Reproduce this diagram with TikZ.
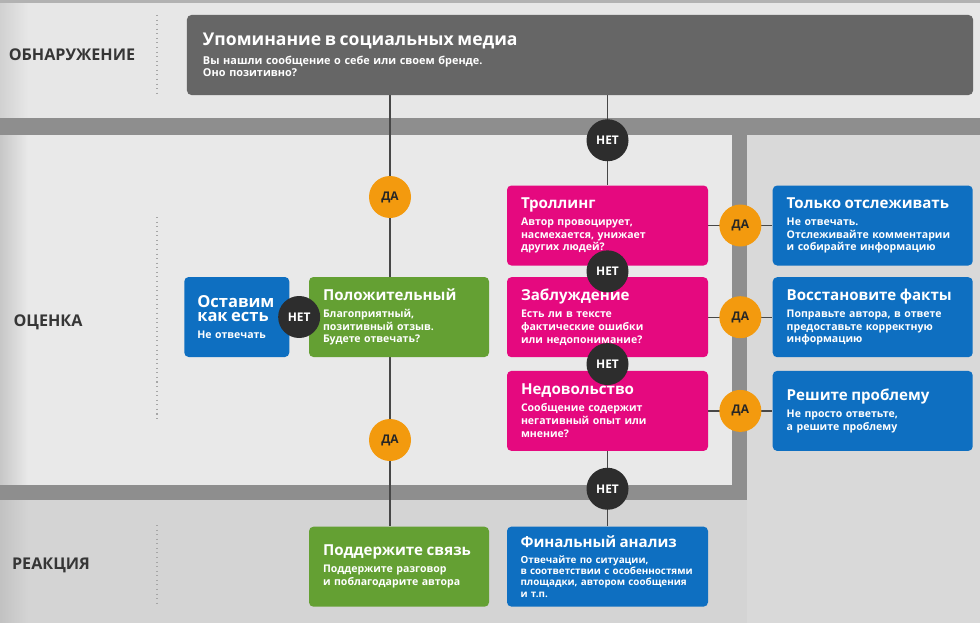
\documentclass[tikz,border=0pt]{standalone}
\usepackage{fontspec}
\setmainfont{Open Sans}
\usetikzlibrary{positioning,calc}

\definecolor{topbg}{HTML}{E7E7E7}
\definecolor{midbg}{HTML}{E9E9E9}
\definecolor{sidebg}{HTML}{D9D9D9}
\definecolor{lowbg}{HTML}{D4D4D4}
\definecolor{barcol}{HTML}{8E8E8E}
\definecolor{headcol}{HTML}{666666}
\definecolor{trollcol}{HTML}{E5097F}
\definecolor{actcol}{HTML}{0E6FC1}
\definecolor{goodcol}{HTML}{64A033}
\definecolor{yescol}{HTML}{F39A0E}
\definecolor{nocol}{HTML}{2D2D2D}
\definecolor{labelcol}{HTML}{363636}

\pgfdeclarelayer{back}
\pgfdeclarelayer{wires}
\pgfsetlayers{back,wires,main}

\newcommand{\cardtext}[2]{{\fontsize{8.6}{9}\selectfont #1}\\[2.3pt]#2}

\begin{document}
\begin{tikzpicture}[
  x=0.2mm, y=-0.2mm,
  node distance=2.2mm and 12.8mm,
  card/.style={rounded corners=2.5pt, align=left, minimum height=16mm, inner xsep=2.8mm, inner ysep=0pt, text=white, font=\fontsize{6}{7.3}\selectfont\bfseries},
  pinkcard/.style={card, fill=trollcol, text width=34.6mm},
  bluecard/.style={card, fill=actcol, text width=34.4mm},
  greencard/.style={card, fill=goodcol, text width=30.4mm},
  yes/.style={circle, fill=yescol, minimum size=8.4mm, inner sep=0pt, text=black!85, font=\fontsize{6.8}{7}\selectfont\bfseries},
  no/.style={circle, fill=nocol, minimum size=8.4mm, inner sep=0pt, text=white, font=\fontsize{6.8}{7}\selectfont\bfseries},
  stage/.style={text=labelcol, font=\fontsize{9.2}{9}\selectfont\bfseries},
  link/.style={draw=black!72, line width=0.8pt},
  sep/.style={draw=black!35, dotted, line width=0.6pt}
]
\useasboundingbox (0,0) rectangle (980,623);

\begin{pgfonlayer}{back}
  \fill[topbg] (0,0) rectangle (980,118);
  \fill[midbg] (0,135) rectangle (732,485);
  \fill[sidebg] (747,135) rectangle (980,623);
  \fill[lowbg] (0,500) rectangle (747,623);
  \shade[left color=black!22, right color=midbg] (0,135) rectangle (28,485);
  \shade[left color=black!24, right color=lowbg] (0,500) rectangle (28,623);
  \shade[left color=black!18, right color=topbg] (0,3) rectangle (28,118);
  \fill[black!30] (0,0) rectangle (980,3);
  \fill[barcol] (0,118) rectangle (980,135);
  \fill[barcol] (732,135) rectangle (747,500);
  \fill[barcol] (0,485) rectangle (747,500);
  \draw[sep] (157,15) -- (157,97);
  \draw[sep] (157,217) -- (157,420);
  \draw[sep] (157,525) -- (157,605);
\end{pgfonlayer}

\node[stage] (detect) at (72,55) {ОБНАРУЖЕНИЕ};
\node[stage] (assess) at (48,322) {ОЦЕНКА};
\node[stage] (react) at (51,565) {РЕАКЦИЯ};

\node[card, fill=headcol, text width=150.8mm, inner xsep=3.2mm, font=\fontsize{6.2}{6.8}\selectfont\bfseries] (mention) at (580,55)
  {{\fontsize{10}{11}\selectfont Упоминание в социальных медиа}\\[4pt]Вы нашли сообщение о себе или своем бренде.\\Оно позитивно?};

\node[greencard] (positive) at (399,317) {\cardtext{Положительный}{Благоприятный,\\позитивный отзыв.\\Будете отвечать?}};
\node[card, fill=actcol, text width=15.8mm, inner xsep=2.6mm, left=3.8mm of positive] (leave)
  {{\fontsize{9.4}{9}\selectfont Оставим\\[0.6pt]как есть}\\[2.5pt]Не отвечать};

\node[pinkcard] (trolling) at (607.5,225.5) {\cardtext{Троллинг}{Автор провоцирует,\\насмехается, унижает\\других людей?}};
\node[pinkcard, below=of trolling] (delusion) {\cardtext{Заблуждение}{Есть ли в тексте\\фактические ошибки\\или недопонимание?}};
\node[pinkcard, below=2.6mm of delusion] (discontent) {\cardtext{Недовольство}{Сообщение содержит\\негативный опыт или\\мнение?}};

\node[bluecard, right=of trolling] (monitor) {\cardtext{Только отслеживать}{Не отвечать.\\Отслеживайте комментарии\\и собирайте информацию}};
\node[bluecard, right=of delusion] (facts) {\cardtext{Восстановите факты}{Поправьте автора, в ответе\\предоставьте корректную\\информацию}};
\node[bluecard, right=of discontent] (solve) {\cardtext{Решите проблему}{Не просто ответьте,\\а решите проблему}};

\node[greencard, below=33.8mm of positive] (support) {\cardtext{Поддержите связь}{Поддержите разговор\\и поблагодарите автора}};
\node[card, fill=actcol, text width=34.8mm, inner xsep=2.7mm, below=15mm of discontent, font=\fontsize{5.6}{6.5}\selectfont\bfseries] (final)
  {\cardtext{Финальный анализ}{Отвечайте по ситуации,\\\mbox{в соответствии с особенностями}\\площадки, автором сообщения\\и т.п.}};

\coordinate (axis) at (390,0);
\node[yes] (yes1) at (390,197) {ДА};
\node[yes] (yes2) at (390,440) {ДА};
\node[no] (no0) at ($(mention.south -| trolling.north)!.5!(trolling.north)$) {НЕТ};
\node[no] (noleave) at ($(leave.east)!.5!(positive.west)$) {НЕТ};
\node[no] (no1) at ($(trolling.south)!.5!(delusion.north)$) {НЕТ};
\node[no] (no2) at ($(delusion.south)!.5!(discontent.north)$) {НЕТ};
\node[no] (no3) at ($(discontent.south)!.5!(final.north)$) {НЕТ};
\foreach \a/\b/\n in {trolling/monitor/1,delusion/facts/2,discontent/solve/3}
  \node[yes] (side\n) at ($(\a.east)!.5!(\b.west)$) {ДА};

\begin{pgfonlayer}{wires}
  \draw[link] (mention.south -| axis) -- (support.north -| axis);
  \draw[link] (mention.south -| trolling.north) -- (trolling.north);
  \draw[link] (discontent.south) -- (final.north);
  \draw[link] (leave.east) -- (positive.west);
  \foreach \a/\b in {trolling/monitor,delusion/facts,discontent/solve}
    \draw[link] (\a.east) -- (\b.west);
\end{pgfonlayer}
\end{tikzpicture}
\end{document}
